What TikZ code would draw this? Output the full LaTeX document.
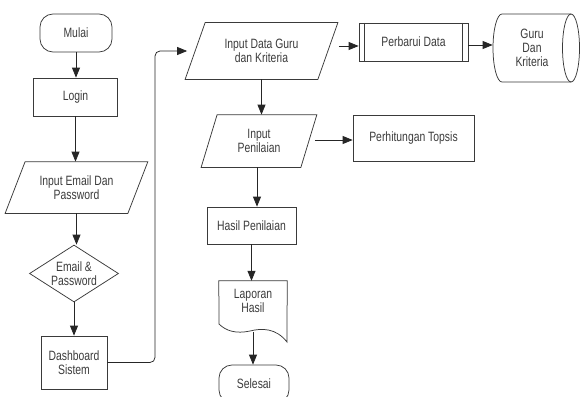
\documentclass[tikz,border=0pt]{standalone}
\usepackage{fontspec}
\setmainfont[FakeStretch=0.77]{Liberation Sans}
\usetikzlibrary{shapes.geometric,arrows.meta}
\definecolor{lc}{HTML}{3A3A3A}
\definecolor{tc}{HTML}{3C3C3C}
\tikzset{
  base/.style={draw=lc, line width=0.75pt, inner sep=0pt, text=tc, align=center,
    font=\fontsize{13.5}{14}\selectfont},
  boxn/.style={base, rectangle},
  term/.style={base, rectangle, rounded corners=13pt},
  paratext/.style={base, draw=none, rectangle},
  outline/.style={draw=lc, line width=0.75pt},
  dec/.style={base, diamond, aspect=1.56},
  predef/.style={boxn, path picture={
    \draw[lc, line width=0.75pt] ([xshift=5.5pt]path picture bounding box.north west) -- ([xshift=5.5pt]path picture bounding box.south west);
    \draw[lc, line width=0.75pt] ([xshift=-5.5pt]path picture bounding box.north east) -- ([xshift=-5.5pt]path picture bounding box.south east);}},
  arr/.style={draw=black!85, line width=0.75pt, -{Triangle[length=10pt,width=8pt]}},
}
\newcommand\drawpara[2]{\draw[outline] ([xshift=-#2]#1.south west) -- ([xshift=#2]#1.north west) -- ([xshift=#2]#1.north east) -- ([xshift=-#2]#1.south east) -- cycle;}
\begin{document}
\begin{tikzpicture}[x=1pt, y=-1pt]
\useasboundingbox (0,0) rectangle (580,396);
\clip (0,0) rectangle (580,396);
\fill[white] (0,0) rectangle (580,396);
% left column
\node[term, minimum width=72pt, minimum height=38pt] (mulai) at (76,33) {Mulai};
\node[boxn, minimum width=84pt, minimum height=38pt] (login) at (75.5,97) {Login};
\node[paratext, minimum width=122pt, minimum height=51pt] (email) at (76.5,187.5) {Input Email Dan\\Password};
\drawpara{email}{10pt}
\node[dec, minimum width=89pt, minimum height=57pt] (cek) at (74,273.5) {Email \&\\Password};
\node[boxn, minimum width=66pt, minimum height=53pt] (dash) at (74,362.5) {Dashboard\\Sistem};
% middle
\node[paratext, minimum width=132pt, minimum height=56pt] (guru) at (261.5,51) {Input Data Guru\\dan Kriteria};
\drawpara{guru}{10pt}
\node[predef, minimum width=109pt, minimum height=38pt] (perb) at (413.5,42) {Perbarui Data};
% storage cylinder
\node[paratext, minimum width=78pt, minimum height=68pt] (db) at (532,48) {Guru\\Dan\\Kriteria};
\draw[outline] (571,14) -- (502,14) arc[start angle=90, end angle=270, x radius=9pt, y radius=34pt] -- (571,82);
\draw[outline] (571,48) ellipse [x radius=8.5pt, y radius=34pt];
\node[paratext, minimum width=99pt, minimum height=52pt] (penil) at (259,141) {Input\\Penilaian};
\drawpara{penil}{8pt}
\node[boxn, minimum width=121pt, minimum height=46pt] (topsis) at (413.5,138) {Perhitungan Topsis};
\node[boxn, minimum width=89pt, minimum height=37pt] (hasil) at (251.5,225.5) {Hasil Penilaian};
\node[rectangle, inner sep=0pt, minimum width=68pt, minimum height=51pt] (lap) at (253,306.5) {};
\draw[outline] (lap.north west) -- (lap.north east) -- (287,342)
  .. controls (276,328) and (262,328) .. (250,331)
  .. controls (236,334) and (226,331) .. (219,324) -- cycle;
\node[paratext] (laptxt) at (253,301) {Laporan\\Hasil};
\node[term, minimum width=70pt, minimum height=38pt] (selesai) at (254,384) {Selesai};
% connectors
\draw[arr] (mulai.south) -- (mulai.south |- login.north);
\draw[arr] (login.south) -- (login.south |- email.north);
\draw[arr] (email.south) -- (email.south |- cek.north);
\draw[arr] (cek.south) -- (cek.south |- dash.north);
\coordinate (bend) at (155,0);
\draw[arr, rounded corners=5pt] (dash.east) -| (bend |- guru.west) -- ([xshift=-8pt]guru.west);
\draw[arr] ([shift={(11pt,5pt)}]guru.east) coordinate (g1) -- (perb.west |- g1);
\draw[arr] ([yshift=-3pt]perb.east) coordinate (p1) -- (db.west |- p1);
\draw[arr] (guru.south) -- (guru.south |- penil.north);
\draw[arr] ([shift={(6pt,1pt)}]penil.east) coordinate (q1) -- (topsis.west |- q1);
\draw[arr] ([xshift=-2pt]penil.south) coordinate (q2) -- (q2 |- hasil.north);
\draw[arr] (hasil.south) -- (hasil.south |- lap.north);
\draw[arr] (lap.south) -- (lap.south |- selesai.north);
\end{tikzpicture}
\end{document}
